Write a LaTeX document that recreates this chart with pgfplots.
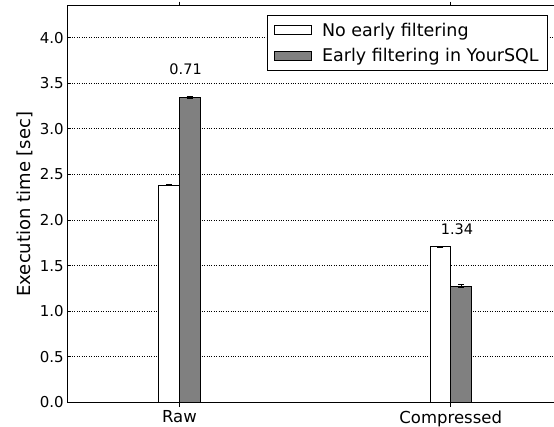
\documentclass[border=0pt]{standalone}
\usepackage{fontspec}
\setmainfont{DejaVu Sans}
\usepackage{pgfplots}
\pgfplotsset{compat=1.18}
\definecolor{barfill}{HTML}{808080}
\begin{document}
\begin{tikzpicture}
\path[use as bounding box] (-67.3pt,-23.5pt) rectangle (486.7pt,402.5pt);
\clip (-67.3pt,-23.5pt) rectangle (486.7pt,402.5pt);
\begin{axis}[
  scale only axis, width=492pt, height=396.8pt,
  xmin=-0.413, xmax=1.4, ymin=0, ymax=4.35,
  ybar, bar width=20.7pt,
  xtick={0,1}, xticklabels={Raw,Compressed},
  ytick={0,0.5,1,1.5,2,2.5,3,3.5,4},
  yticklabel={\pgfmathprintnumber[fixed,fixed zerofill,precision=1,assume math mode=true]{\tick}},
  yticklabel style={font=\fontsize{15}{18}\selectfont},
  xticklabel style={font=\fontsize{16.5}{20}\selectfont, yshift=-0.5pt},
  ylabel={Execution time [sec]},
  ylabel style={at={(axis description cs:-0.0855,0.5)}, anchor=center, font=\fontsize{18}{21}\selectfont},
  ymajorgrids, major grid style={dotted, black, line width=0.8pt},
  axis line style={line width=1pt},
  tick style={black, line width=0.8pt}, major tick length=4pt,
  legend image code/.code={\draw[#1] (0pt,-4.5pt) rectangle (37pt,4.5pt);},
  legend style={at={(axis description cs:1,1)}, anchor=north east, xshift=-11.7pt, yshift=-9.3pt,
    draw=black, line width=0.8pt, font=\fontsize{17.5}{20}\selectfont,
    inner xsep=6.5pt, inner ysep=5.5pt, row sep=6.5pt,
    /tikz/every odd column/.append style={column sep=8pt}},
  legend cell align=left,
]
\addplot[fill=white, draw=black, line width=1pt, bar shift=-10.35pt,
  error bars/.cd, y dir=both, y explicit,
  error bar style={line width=1pt, black},
  error mark options={rotate=90, mark size=3pt, line width=1pt, black}]
  coordinates {(0,2.382) +- (0,0.006) (1,1.708) +- (0,0.004)};
\addlegendentry{No early filtering}
\addplot[fill=barfill, draw=black, line width=1pt, bar shift=10.35pt,
  error bars/.cd, y dir=both, y explicit,
  error bar style={line width=1pt, black},
  error mark options={rotate=90, mark size=3pt, line width=1pt, black}]
  coordinates {(0,3.346) +- (0,0.012) (1,1.277) +- (0,0.012)};
\addlegendentry{Early filtering in YourSQL}
\node[font=\fontsize{14.5}{17}\selectfont] at (axis cs:0.023,3.657) {0.71};
\node[font=\fontsize{14.5}{17}\selectfont] at (axis cs:1.023,1.905) {1.34};
\end{axis}
\end{tikzpicture}
\end{document}
